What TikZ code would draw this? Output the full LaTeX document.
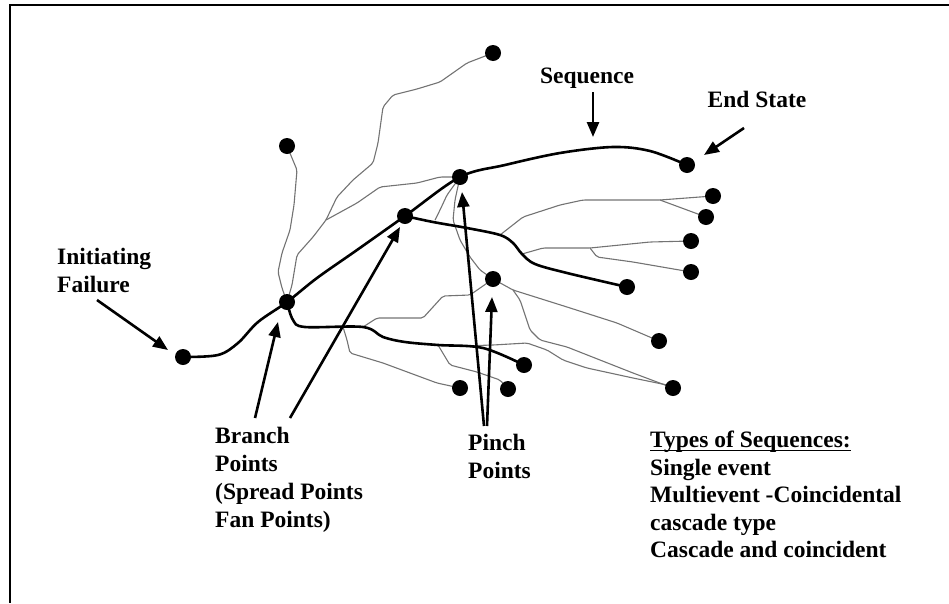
\documentclass[tikz,border=0pt]{standalone}
\usepackage{fontspec}
\setmainfont{Liberation Serif}
\usetikzlibrary{arrows.meta,backgrounds}
\newcommand\ulbox[1]{\setbox0\hbox{#1}\rlap{\rule[-3.5pt]{\wd0}{1.4pt}}\box0}
\begin{document}
\begin{tikzpicture}[x=1pt,y=-1pt,
  dot/.style={circle,fill=black,inner sep=0pt,minimum size=16pt},
  seqline/.style={line width=2.6pt,line cap=round,line join=round},
  thin/.style={draw=black!55,line width=1.1pt,line join=round,rounded corners=2pt},
  pointer/.style={line width=2.6pt,-{Triangle[length=15pt,width=12pt]}},
  lbl/.style={font=\fontsize{23.5}{28}\selectfont\bfseries,inner sep=0pt,align=left,anchor=north west}]
\useasboundingbox (0,0) rectangle (949,603);
% frame
\draw[line width=2.5pt] (949,5) -- (10,5) -- (10,603);
% dots
\node[dot] (init) at (183,357) {};
\node[dot] (b1) at (287,302) {};
\node[dot] (b2) at (405,216) {};
\node[dot] (s) at (460,177) {};
\node[dot] (endd) at (687,165) {};
\node[dot] (top) at (493,53) {};
\node[dot] (lt) at (287,146) {};
\node[dot] (r1) at (713,196) {};
\node[dot] (r2) at (706,217) {};
\node[dot] (r3) at (691,241) {};
\node[dot] (r4) at (691,272) {};
\node[dot] (e2) at (627,287) {};
\node[dot] (p) at (493,279) {};
\node[dot] (r5) at (659,341) {};
\node[dot] (e1) at (524,365) {};
\node[dot] (r6) at (673,388) {};
\node[dot] (d1) at (460,388) {};
\node[dot] (d2) at (508,389) {};
% junctions
\coordinate (j1) at (326,220);
\coordinate (k1) at (435,220);
\coordinate (k2) at (500,235);
\coordinate (k3) at (660,200);
\coordinate (k4) at (522,254);
\coordinate (k5) at (590,248);
\coordinate (k6) at (513,290);
\coordinate (m1) at (363,327);
\coordinate (m2) at (343,327);
\coordinate (m3) at (438,345);
\coordinate (m4) at (460,346);
\begin{scope}[on background layer]
% thin gray branches
\draw[thin] (b1.center) -- (282,288) -- (278,272) -- (282,253) -- (290,230) -- (294,205) -- (297,170) -- (lt.center);
\draw[thin] (b1.center) -- (292,285) -- (297,255) -- (313,237) -- (j1) -- (337,197) -- (353,180) -- (373,163) -- (378,143) -- (383,107) -- (393,95) -- (417,89) -- (440,82) -- (467,63) -- (top.center);
\draw[thin] (j1) -- (357,203) -- (380,187) -- (417,183) -- (440,177) -- (s.center);
\draw[thin] (s.center) -- (447,195) -- (440,210) -- (k1);
\draw[thin] (s.center) -- (455,200) -- (453,220) -- (460,240) -- (470,257) -- (480,270) -- (p.center);
\draw[thin] (k2) -- (523,217) -- (560,205) -- (583,200) -- (k3) -- (r1.center);
\draw[thin] (k3) -- (r2.center);
\draw[thin] (k4) -- (543,248) -- (k5) -- (650,242) -- (r3.center);
\draw[thin] (k5) -- (597,257) -- (633,262) -- (r4.center);
\draw[thin] (p.center) -- (k6) -- (567,307) -- (617,323) -- (r5.center);
\draw[thin] (k6) -- (520,300) -- (530,330) -- (540,340) -- (567,347) -- (600,360) -- (633,373) -- (r6.center);
\draw[thin] (m1) -- (377,318) -- (423,318) -- (443,296) -- (470,295) -- (p.center);
\draw[thin] (m2) -- (347,340) -- (350,353) -- (383,363) -- (437,383) -- (d1.center);
\draw[thin] (m3) -- (450,365) -- (477,372) -- (500,380) -- (d2.center);
\draw[thin] (m4) -- (493,345) -- (527,343) -- (547,350) -- (563,360) -- (587,368) -- (633,378) -- (667,385) -- (r6.center);
% thick sequences
\draw[seqline] plot[smooth,tension=0.55] coordinates {(init.center) (218,355) (238,343) (258,322) (b1.center) (317,278) (357,250) (b2.center) (s.center) (505,165) (560,153) (613,147) (650,151) (endd.center)};
\draw[seqline] plot[smooth,tension=0.55] coordinates {(b2.center) (433,222) (467,228) (500,235) (513,243) (522,254) (535,264) (567,273) (e2.center)};
\draw[seqline] plot[smooth,tension=0.55] coordinates {(b1.center) (293,320) (305,327) (363,327) (383,337) (405,342) (438,345) (483,348) (e1.center)};
\end{scope}
% arrows
\coordinate (a1s) at (97,300);   \coordinate (a1e) at (168,350);
\coordinate (a2s) at (255,418);  \coordinate (a2e) at (278,322);
\coordinate (a3s) at (290,418);  \coordinate (a3e) at (400,227);
\coordinate (a4s) at (484,426);  \coordinate (a4e) at (462,192);
\coordinate (a5s) at (487,426);  \coordinate (a5e) at (492,297);
\coordinate (a6s) at (593,92);   \coordinate (a6e) at (593,137);
\coordinate (a7s) at (744,128);  \coordinate (a7e) at (704,155);
\draw[pointer] (a1s) -- (a1e);
\draw[pointer] (a2s) -- (a2e);
\draw[pointer] (a3s) -- (a3e);
\draw[pointer] (a4s) -- (a4e);
\draw[pointer] (a5s) -- (a5e);
\draw[pointer] (a6s) -- (a6e);
\draw[pointer] (a7s) -- (a7e);
% labels
\node[lbl] (linit) at (57,248) {Initiating\\Failure};
\node[lbl,anchor=base] (lseq) at (587,83) {Sequence};
\node[lbl,anchor=base] (lend) at (757,107) {End State};
\node[lbl] (lbranch) at (215,427) {Branch\\Points\\(Spread Points\\Fan Points)};
\node[lbl] (lpinch) at (468,434) {Pinch\\Points};
\node[lbl,font=\fontsize{23.5}{27.5}\selectfont\bfseries] (ltypes) at (650,431) {\ulbox{Types of Sequences:}\\Single event\\Multievent -Coincidental\\cascade type\\Cascade and coincident};
\end{tikzpicture}
\end{document}
